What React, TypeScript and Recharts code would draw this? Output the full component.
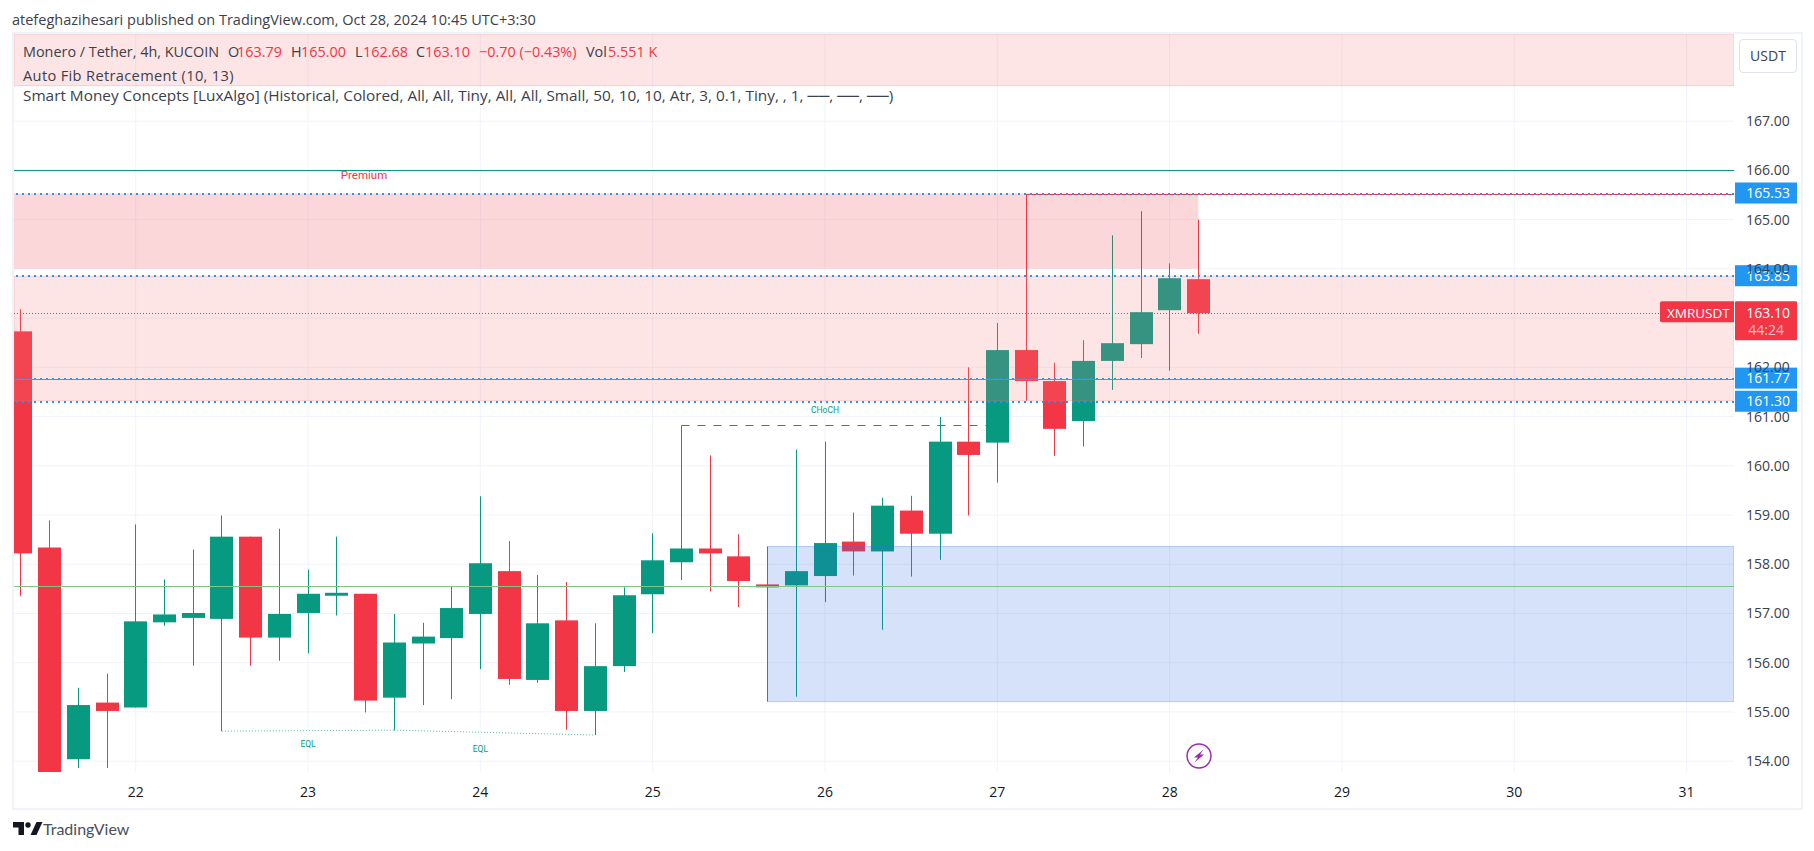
import React from "react";
import { ComposedChart, Bar, XAxis, YAxis, CartesianGrid, ReferenceLine, ReferenceArea, ReferenceDot } from "recharts";

const opens = [162.73,158.34,154.04,155.19,155.09,156.82,156.91,156.89,158.56,156.51,157.01,157.36,157.4,155.29,156.39,156.5,156.99,157.86,155.65,156.86,155.02,155.93,157.39,158.04,158.32,158.16,157.59,157.57,157.76,158.46,158.26,159.09,158.62,160.49,160.47,162.35,161.72,160.91,162.13,162.47,163.16,163.79];
const closes = [158.22,153.78,155.14,155.02,156.84,156.98,157.01,158.56,156.51,156.99,157.4,157.42,155.23,156.41,156.53,157.11,158.02,155.67,156.8,155.02,155.93,157.37,158.08,158.32,158.22,157.66,157.53,157.86,158.43,158.26,159.19,158.62,160.49,160.22,162.35,161.72,160.75,162.13,162.49,163.12,163.81,163.1];
const highs = [163.18,158.89,155.49,155.78,158.81,157.69,158.3,158.99,158.56,158.72,157.89,158.56,157.4,156.99,156.81,157.55,159.38,158.47,157.78,157.64,156.8,157.53,158.63,160.81,160.21,158.61,158.36,160.33,160.49,159.05,159.35,159.39,160.99,162.0,162.9,165.5,162.09,162.55,164.68,165.17,164.11,165.0];
const lows = [157.36,153.78,153.86,153.86,155.09,156.75,155.94,154.61,155.94,156.04,156.19,156.96,154.99,154.63,155.14,155.26,155.87,155.55,155.59,154.64,154.53,155.81,156.6,157.68,157.45,157.13,155.21,155.31,157.23,157.77,156.67,157.75,158.09,158.99,159.66,161.32,160.2,160.39,161.54,162.19,161.93,162.68];

const dayTicks = [4,10,16,22,28,34,40,46,52,58];
const dayLabels = ["22","23","24","25","26","27","28","29","30","31"];
const gridPrices = [154,155,156,157,158,159,160,161,162,163,164,165,166,167];
const priceTicks = [154,155,156,157,158,159,160,161,162,164,165,166,167];
const X_MIN = -0.237, X_MAX = 59.65, Y_MIN = 153.78, Y_MAX = 168.77;
const LEFT_EDGE = X_MIN, RIGHT_EDGE = X_MAX;

const fibLevels = [165.53, 163.85, 161.77, 161.3];
const fibLabels = ["165.53","163.85","161.77","161.30"];
const lastPrice = 163.1;
const eqlLeft = [[7,154.61],[13,154.63]];
const eqlRight = [[13,154.63],[20,154.53]];

const RED = "#f23645", TEAL = "#089981", BLUE = "#2196f3", FIB = "#f77c80", TXT = "#3c404b";
const FONT = "'Open Sans', sans-serif";

const rows = opens.map((o, i) => ({ i, o, c: closes[i], h: highs[i], l: lows[i], range: [lows[i], highs[i]] }));

function Candle(props: any) {
  const { x, y, width, height, payload } = props;
  const { o, c, h, l } = payload;
  const ppu = height / Math.max(h - l, 1e-6);
  const col = c >= o ? TEAL : RED;
  const top = y + (h - Math.max(o, c)) * ppu;
  const bot = y + (h - Math.min(o, c)) * ppu;
  const cx = Math.floor(x + width / 2);
  return (
    <g>
      <rect x={cx} y={y} width={1} height={height} fill={col} />
      <rect x={cx - 11} y={top} width={23} height={Math.max(bot - top, 1)} fill={col} />
    </g>
  );
}

function crispLine(sw: number, stroke: string, dash?: string, opacity = 1) {
  return (p: any) => {
    const yy = sw % 2 === 1 ? Math.floor(p.y1) + 0.5 : Math.round(p.y1);
    return <line x1={p.x1} x2={p.x2} y1={yy} y2={yy} stroke={stroke} strokeWidth={sw} strokeDasharray={dash} strokeOpacity={opacity} />;
  };
}

function Tag({ viewBox, text, fill = BLUE }: any) {
  const y = viewBox.y - 0.5;
  return (
    <g>
      <rect x={1735} y={y - 10.5} width={62} height={21} fill={fill} />
      <text x={1790} y={y + 5} textAnchor="end" fontSize={14} fontFamily={FONT} fill="#fff">{text}</text>
    </g>
  );
}

function LastTag({ viewBox }: any) {
  const y = viewBox.y;
  return (
    <g>
      <path d={`M1660 ${y - 10}a2 2 0 0 1 2-2h72v21h-72a2 2 0 0 1-2-2z`} fill={RED} />
      <text x={1667} y={y + 4.5} fontSize={13.5} fontFamily={FONT} fill="#fff">XMRUSDT</text>
      <rect x={1735} y={y - 12} width={62} height={39} rx={1} fill={RED} />
      <text x={1790} y={y + 5} textAnchor="end" fontSize={14} fontFamily={FONT} fill="#fff">163.10</text>
      <text x={1784} y={y + 22} textAnchor="end" fontSize={14} fontFamily={FONT} fill="#fff" fillOpacity={0.7}>44:24</text>
    </g>
  );
}

function SmallText({ viewBox, text, color, size, dy = 0 }: any) {
  return (
    <text x={viewBox.x} y={viewBox.y + dy} textAnchor="middle" fontSize={size} fontFamily="Roboto, sans-serif" fill={color}>{text}</text>
  );
}

const Z = 400;

function Logo() {
  return (
    <svg width={140} height={24} style={{ position: "absolute", left: 12, top: 818 }}>
      <path d="M1 4h11v13H6.5V9.5H1z" fill="#131722" />
      <circle cx={16} cy={7} r={2.7} fill="#131722" />
      <path d="M18.5 17L24.5 4h6L24.5 17z" fill="#131722" />
      <text x={31} y={17} fontSize={16} fontFamily="Lato, sans-serif" fill="#4a4e59">TradingView</text>
    </svg>
  );
}

const legendPieces: [number, string, boolean][] = [
  [23, "Monero / Tether, 4h, KUCOIN", false],
  [228, "O", false], [237, "163.79", true],
  [291, "H", false], [301, "165.00", true],
  [355, "L", false], [363, "162.68", true],
  [416, "C", false], [425, "163.10", true],
  [479, "−0.70 (−0.43%)", true],
  [586, "Vol", false], [608, "5.551 K", true],
];

export default function App() {
  return (
    <div style={{ position: "absolute", left: 0, top: 0, width: 1814, height: 851, background: "#fff", fontFamily: FONT, overflow: "hidden" }}>
      <div style={{ position: "absolute", left: 12, top: 32, width: 1787, height: 774, border: "2px solid #f0f3fa" }} />
      <ComposedChart width={1814} height={851} data={rows} margin={{ top: 34, left: 14, right: 13, bottom: 43 }} style={{ position: "absolute", left: 0, top: 0 }}>
        <CartesianGrid stroke="#f0f3fa" verticalValues={dayTicks} horizontalValues={gridPrices} />
        <XAxis dataKey="i" type="number" domain={[X_MIN, X_MAX]} allowDataOverflow ticks={dayTicks} interval={0} height={36}
          tickFormatter={(v: number) => dayLabels[dayTicks.indexOf(v)]} axisLine={false} tickLine={false} tickSize={0} tickMargin={15}
          tick={{ fontSize: 14, fontFamily: FONT, fill: "#131722" }} />
        <YAxis orientation="right" type="number" domain={[Y_MIN, Y_MAX]} allowDataOverflow ticks={priceTicks} interval={0} width={67} zIndex={100}
          tickFormatter={(v: number) => v.toFixed(2)} axisLine={false} tickLine={false} tickSize={0} tickMargin={12}
          tick={{ fontSize: 14, fontFamily: FONT, fill: "#3c404b", textAnchor: "start" }} />
        <Bar dataKey="range" barSize={23} isAnimationActive={false} shape={<Candle />} />

        <ReferenceArea x1={LEFT_EDGE} x2={RIGHT_EDGE} y1={167.72} y2={Y_MAX} fill={FIB} fillOpacity={0.2} stroke={FIB} strokeOpacity={0.3} ifOverflow="hidden" zIndex={Z} />
        <ReferenceArea x1={LEFT_EDGE} x2={RIGHT_EDGE} y1={161.32} y2={163.85} fill={FIB} fillOpacity={0.2} stroke={FIB} strokeOpacity={0.3} ifOverflow="hidden" zIndex={Z} />
        <ReferenceArea x1={LEFT_EDGE} x2={41} y1={164} y2={165.53} fill={RED} fillOpacity={0.2} ifOverflow="hidden" zIndex={Z} />
        <ReferenceArea x1={26} x2={RIGHT_EDGE} y1={155.21} y2={158.36} fill="#2f6fe4" fillOpacity={0.2} stroke="#2f6fe4" strokeOpacity={0.3} ifOverflow="hidden" zIndex={Z} />

        <ReferenceLine y={166} zIndex={Z} ifOverflow="hidden" shape={crispLine(1, TEAL)} />
        <ReferenceLine y={157.55} zIndex={Z} ifOverflow="hidden" shape={crispLine(1, "#81c784")} />
        <ReferenceLine y={161.75} zIndex={Z} ifOverflow="hidden" shape={crispLine(1, "#4caf50")} />
        <ReferenceLine segment={[{ x: 35, y: 165.5 }, { x: RIGHT_EDGE, y: 165.5 }]} zIndex={Z} ifOverflow="hidden" shape={crispLine(1, RED)} />
        <ReferenceLine y={lastPrice} zIndex={Z} ifOverflow="hidden" label={<LastTag />} shape={crispLine(1, RED, "1 2")} />
        {fibLevels.map((v, k) => (
          <ReferenceLine key={v} y={v} zIndex={Z} ifOverflow="hidden" label={<Tag text={fibLabels[k]} />} shape={crispLine(k === 2 ? 1 : 2, BLUE, "2 4")} />
        ))}
        <ReferenceLine segment={[{ x: eqlLeft[0][0], y: eqlLeft[0][1] }, { x: eqlLeft[1][0], y: eqlLeft[1][1] }]} stroke={TEAL} strokeOpacity={0.7} strokeDasharray="1 2" zIndex={Z} />
        <ReferenceLine segment={[{ x: eqlRight[0][0], y: eqlRight[0][1] }, { x: eqlRight[1][0], y: eqlRight[1][1] }]} stroke={TEAL} strokeOpacity={0.7} strokeDasharray="1 2" zIndex={Z} />
        <ReferenceLine segment={[{ x: 23, y: 160.81 }, { x: 34, y: 160.81 }]} zIndex={Z} shape={crispLine(1, TEAL, "8 8")} />

        <ReferenceDot x={10} y={154.33} r={0} ifOverflow="visible" label={<SmallText text="EQL" color={TEAL} size={8.5} dy={2} />} />
        <ReferenceDot x={16} y={154.23} r={0} ifOverflow="visible" label={<SmallText text="EQL" color={TEAL} size={8.5} dy={2} />} />
        <ReferenceDot x={28} y={161.12} r={0} ifOverflow="visible" label={<SmallText text="CHoCH" color={TEAL} size={8.5} dy={2} />} />
        <ReferenceDot x={11.95} y={166} r={0} ifOverflow="visible" label={<SmallText text="Premium" color={RED} size={11.5} dy={9} />} />
      </ComposedChart>

      <div style={{ position: "absolute", left: 12, top: 10, fontSize: 14.5, color: TXT, whiteSpace: "nowrap" }}>atefeghazihesari published on TradingView.com, Oct 28, 2024 10:45 UTC+3:30</div>
      {legendPieces.map(([x, t, red]) => (
        <span key={x} style={{ position: "absolute", left: x, top: 42, fontSize: 14.4, color: red ? RED : TXT, whiteSpace: "nowrap" }}>{t}</span>
      ))}
      <div style={{ position: "absolute", left: 23, top: 65, fontSize: 14.6, letterSpacing: 0.35, color: TXT, whiteSpace: "nowrap" }}>Auto Fib Retracement (10, 13)</div>
      <div style={{ position: "absolute", left: 23, top: 85, fontSize: 15.35, color: TXT, whiteSpace: "nowrap" }}>Smart Money Concepts [LuxAlgo] (Historical, Colored, All, All, Tiny, All, All, Small, 50, 10, 10, Atr, 3, 0.1, Tiny, , 1, ──, ──, ──)</div>
      <div style={{ position: "absolute", left: 1739, top: 39, width: 56, height: 32, border: "1px solid #e0e3eb", borderRadius: 4, background: "#fff", textAlign: "center", lineHeight: "32px", fontSize: 14, color: TXT }}>USDT</div>
      <svg width={30} height={30} style={{ position: "absolute", left: 1184, top: 741 }}>
        <circle cx={15} cy={15} r={12} fill="#fff" stroke="#9c27b0" strokeWidth={1.5} />
        <path d="M19.5 8.5L10 16.5h4l-3.5 5L20 13.5h-4z" fill="#9c27b0" />
      </svg>
      <Logo />
    </div>
  );
}
